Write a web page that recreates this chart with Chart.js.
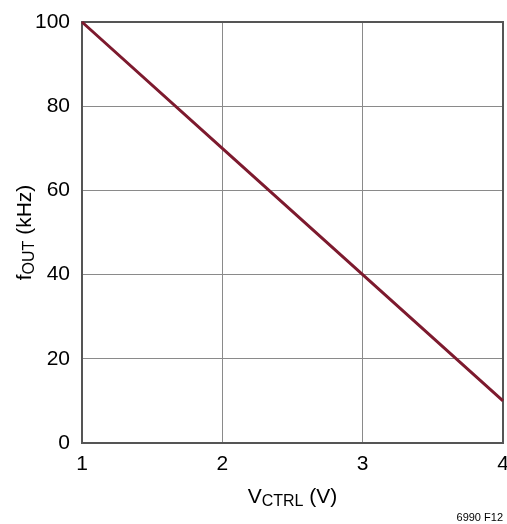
<!DOCTYPE html>
<html>
<head>
<meta charset="utf-8">
<script src="https://cdn.jsdelivr.net/npm/chart.js@4"></script>
<style>
  html, body { margin: 0; padding: 0; background: #fff; }
  #wrap { width: 507px; height: 524px; position: relative; }
</style>
</head>
<body>
<div id="wrap"><canvas id="myChart" width="507" height="524"></canvas></div>
<script>
// data
const vctrl = [1, 2, 3, 4];
const fout = [100, 70, 40, 10];
const xTicks = [1, 2, 3, 4];
const yTicks = [0, 20, 40, 60, 80, 100];

const tickFont = { family: "'Liberation Sans', Arial", size: 21 };

// draws axis titles with subscripts + figure number
const titlesPlugin = {
  id: "titles",
  afterDraw(chart) {
    const ctx = chart.ctx;
    const area = chart.chartArea;
    const big = "21px 'Liberation Sans', Arial";
    const small = "16px 'Liberation Sans', Arial";

    const drawSub = (parts) => {
      // parts: [text, font, dy]
      let total = 0;
      parts.forEach(p => { ctx.font = p[1]; total += ctx.measureText(p[0]).width; });
      let x = -total / 2;
      parts.forEach(p => {
        ctx.font = p[1];
        ctx.fillText(p[0], x, p[2]);
        x += ctx.measureText(p[0]).width;
      });
    };

    ctx.save();
    ctx.fillStyle = "#000";
    ctx.textBaseline = "alphabetic";
    ctx.textAlign = "left";

    // x title
    ctx.save();
    ctx.translate((area.left + area.right) / 2, 503);
    drawSub([["V", big, 0], ["CTRL", small, 3], [" (V)", big, 0]]);
    ctx.restore();

    // y title
    ctx.save();
    ctx.translate(31, (area.top + area.bottom) / 2);
    ctx.rotate(-Math.PI / 2);
    drawSub([["f", big, 0], ["OUT", small, 3], [" (kHz)", big, 0]]);
    ctx.restore();

    // figure id
    ctx.font = "11px 'Liberation Sans', Arial";
    ctx.textAlign = "right";
    ctx.fillText("6990 F12", 503, 521);
    ctx.restore();
  }
};

const ctx = document.getElementById("myChart").getContext("2d");
new Chart(ctx, {
  type: "line",
  data: {
    datasets: [{
      data: vctrl.map((v, i) => ({ x: v, y: fout[i] })),
      borderColor: "#7d1a2e",
      borderWidth: 3,
      pointRadius: 0,
      tension: 0,
      clip: false
    }]
  },
  options: {
    responsive: false,
    animation: false,
    devicePixelRatio: 1,
    layout: { padding: { top: 22, right: 4, left: 0, bottom: 0 } },
    plugins: { legend: { display: false }, tooltip: { enabled: false } },
    scales: {
      x: {
        type: "linear",
        min: 1,
        max: 4,
        afterBuildTicks: (s) => { s.ticks = xTicks.map(v => ({ value: v })); },
        afterFit: (s) => { s.height = 81; s.paddingRight = 0; s.paddingLeft = 0; },
        ticks: { color: "#000", font: tickFont, padding: 9 },
        grid: { color: "#8a8a8a", lineWidth: 1, drawTicks: false },
        border: { color: "#555", width: 2 }
      },
      y: {
        min: 0,
        max: 100,
        afterBuildTicks: (s) => { s.ticks = yTicks.map(v => ({ value: v })); },
        afterFit: (s) => { s.width = 82; s.paddingTop = 0; s.paddingBottom = 0; },
        ticks: { color: "#000", font: tickFont, padding: 12 },
        grid: { color: "#8a8a8a", lineWidth: 1, drawTicks: false },
        border: { color: "#555", width: 2 }
      },
      x2: {
        type: "linear", position: "top", min: 1, max: 4,
        ticks: { display: false },
        grid: { display: false },
        border: { color: "#555", width: 2 },
        afterFit: (s) => { s.height = 0; s.paddingRight = 0; s.paddingLeft = 0; }
      },
      y2: {
        position: "right", min: 0, max: 100,
        ticks: { display: false },
        grid: { display: false },
        border: { color: "#555", width: 2 },
        afterFit: (s) => { s.width = 0; }
      }
    }
  },
  plugins: [titlesPlugin]
});
</script>
</body>
</html>
